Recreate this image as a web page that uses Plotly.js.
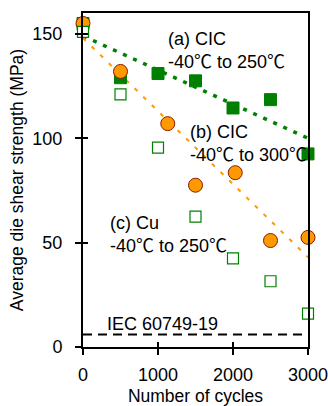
<!DOCTYPE html>
<html>
<head>
<meta charset="utf-8">
<script src="https://cdn.plot.ly/plotly-3.0.1.min.js"></script>
<style>html,body{margin:0;padding:0;background:#fff;}#chart{width:328px;height:406px;}</style>
</head>
<body>
<div id="chart"></div>
<script>
// (a) CIC -40 to 250 C (filled green squares)
const cyclesA = [0, 500, 1000, 1500, 2000, 2500, 3000];
const strengthA = [155, 129, 131, 127.5, 114.5, 118.5, 92.5];
// (b) CIC -40 to 300 C (orange circles)
const cyclesB = [0, 500, 1130, 1500, 2030, 2500, 3000];
const strengthB = [155, 132, 107, 77.5, 83.5, 51, 52.5];
// (c) Cu -40 to 250 C (open green squares)
const cyclesC = [0, 500, 1000, 1500, 2000, 2500, 3000];
const strengthC = [151, 121, 95.5, 62.5, 42.5, 31.5, 16];
// trend lines and standard limit
const trendX = [0, 3000];
const trendA = [149, 100];
const trendB = [148, 43];
const iecLimit = [6, 6];
const xTicks = [0, 1000, 2000, 3000];
const yTicks = [0, 50, 100, 150];

const green = '#008000';
const orange = '#FF9900';
const font = 'Liberation Sans, Arial, sans-serif';
const degC = '<span style="font-family:Noto Sans CJK JP">℃</span>';

const traces = [
  {x: trendX, y: iecLimit, mode: 'lines', line: {color: '#000', width: 2, dash: '9px,6px'}, hoverinfo: 'skip'},
  {x: trendX, y: trendA, mode: 'lines', line: {color: green, width: 3.5, dash: '4px,7px'}, hoverinfo: 'skip'},
  {x: trendX, y: trendB, mode: 'lines', line: {color: orange, width: 2, dash: '4px,8px'}, hoverinfo: 'skip'},
  {x: cyclesA, y: strengthA, mode: 'markers', cliponaxis: false,
   marker: {symbol: 'square', size: 12, color: green, line: {color: green, width: 1}}},
  {x: cyclesB, y: strengthB, mode: 'markers', cliponaxis: false,
   marker: {symbol: 'circle', size: 14, color: orange, line: {color: '#8B1A00', width: 1}}},
  {x: cyclesC, y: strengthC, mode: 'markers', cliponaxis: false,
   marker: {symbol: 'square', size: 11, color: '#fff', line: {color: green, width: 1.2}}},
  // overlay for inside tick marks
  {x: [0], y: [0], xaxis: 'x2', yaxis: 'y2', mode: 'markers', marker: {opacity: 0}, hoverinfo: 'skip'}
];

const ann = (x, y, text) => ({xref: 'paper', yref: 'paper', x: x, y: y, text: text, showarrow: false,
  xanchor: 'left', yanchor: 'middle', align: 'left', xshift: -2, font: {family: font, size: 18, color: '#000'}});

const layout = {
  width: 328, height: 406,
  margin: {l: 83, r: 20, t: 13, b: 59},
  showlegend: false,
  paper_bgcolor: '#fff', plot_bgcolor: '#fff',
  font: {family: font, color: '#000', size: 18},
  xaxis: {range: [0, 3000], tickvals: xTicks, ticks: 'outside', ticklen: 6, tickwidth: 2, tickcolor: '#000',
    ticklabelstandoff: 4, ticklabeloverflow: 'allow',
    showgrid: false, zeroline: false, showline: true, linewidth: 2, linecolor: '#000', mirror: true,
    tickfont: {family: font, size: 18}, title: {text: 'Number of cycles', font: {family: font, size: 17.5}, standoff: 9}},
  yaxis: {range: [0, 160], tickvals: yTicks, ticks: 'outside', ticklen: 6, tickwidth: 2, tickcolor: '#000',
    ticklabelstandoff: 9,
    showgrid: false, zeroline: false, showline: true, linewidth: 2, linecolor: '#000', mirror: true,
    tickfont: {family: font, size: 18}, title: {text: 'Average die shear strength (MPa)', font: {family: font, size: 17.5}, standoff: 4}},
  xaxis2: {overlaying: 'x', range: [0, 3000], tickvals: xTicks, ticks: 'inside', ticklen: 5, tickwidth: 2, tickcolor: '#000',
    showticklabels: false, showgrid: false, zeroline: false, showline: false, side: 'bottom'},
  yaxis2: {overlaying: 'y', range: [0, 160], tickvals: yTicks, ticks: 'inside', ticklen: 5, tickwidth: 2, tickcolor: '#000',
    showticklabels: false, showgrid: false, zeroline: false, showline: false, side: 'left'},
  annotations: [
    ann(0.378, 0.885, '(a) CIC<br>-40' + degC + ' to 250' + degC),
    ann(0.476, 0.608, '(b) CIC<br>-40' + degC + ' to 300' + degC),
    ann(0.118, 0.335, '(c) Cu<br>-40' + degC + ' to 250' + degC),
    ann(0.105, 0.069, 'IEC 60749-19')
  ]
};

Plotly.newPlot('chart', traces, layout, {displayModeBar: false, staticPlot: true});
</script>
</body>
</html>
